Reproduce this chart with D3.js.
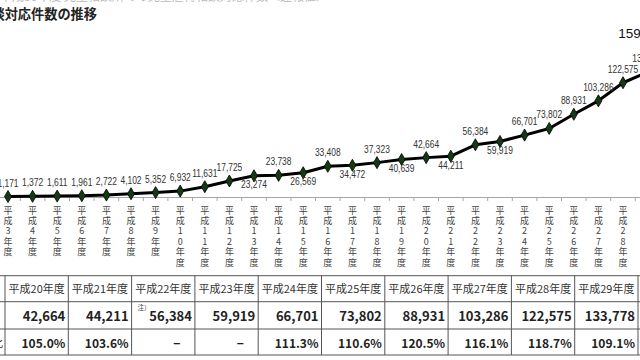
<!DOCTYPE html>
<html><head><meta charset="utf-8">
<script src="https://cdn.jsdelivr.net/npm/d3@7"></script>
<style>
html,body{margin:0;padding:0;background:#fff;overflow:hidden}
svg{display:block}
</style></head>
<body>
<svg id="c" width="640" height="360"></svg>
<script>
// ---- data ----
const eraNums = [3,4,5,6,7,8,9,10,11,12,13,14,15,16,17,18,19,20,21,22,23,24,25,26,27,28,29,30];
const counts = [1171,1372,1611,1961,2722,4102,5352,6932,11631,17725,23274,23738,26569,33408,34472,37323,40639,42664,44211,56384,59919,66701,73802,88931,103286,122575,133778,159850];
const labelSide = ["a","a","a","a","a","a","a","a","a","a","b","a","b","a","b","a","b","a","b","a","b","a","a","a","a","a","a","big"];
const tableYears = ["平成20年度","平成21年度","平成22年度","平成23年度","平成24年度","平成25年度","平成26年度","平成27年度","平成28年度","平成29年度"];
const tableCounts = [42664,44211,56384,59919,66701,73802,88931,103286,122575,133778];
const tableRatios = ["105.0%","103.6%","−","−","111.3%","110.6%","120.5%","116.1%","118.7%","109.1%"];
const rowLabels = ["","件数","対前年度比"];
const titleText = "児童相談所での児童虐待相談対応件数の推移";

const svg = d3.select("#c");
const cats = eraNums.map(n => "平成" + n + "年度");
const data = cats.map((c,i)=>({c, n: eraNums[i], v: counts[i], side: labelSide[i]}));

const x = d3.scalePoint().domain(cats).range([8, 8 + 24.6*(cats.length-1)]);
const y = d3.scaleLinear().domain([0, 160000]).range([197.6, 197.6 - 0.000937*160000]);

// faint cut text at top
svg.append("text").attr("x", 0).attr("y", 1)
  .attr("font-family","'Noto Sans CJK JP'").attr("font-size",12).attr("fill","#bbb")
  .text("平成30年度 児童相談所での児童虐待相談対応件数〈速報値〉");

// title
svg.append("text").attr("x", 97).attr("y", 18.5).attr("text-anchor","end")
  .attr("font-family","'Noto Sans CJK JP'").attr("font-size",13.2).attr("font-weight",700)
  .attr("fill","#222").text(titleText);

// axis line
const step = x.step();
const axisG = svg.append("g").attr("transform","translate(0,197)");
axisG.call(d3.axisBottom(d3.scaleLinear().domain([0,1]).range([-10, 700])).tickValues([]).tickSizeOuter(0));
axisG.select(".domain").attr("stroke","#a6a6a6");
axisG.selectAll(".bt").data(cats).enter().append("line").attr("class","bt")
  .attr("x1", d => x(d) + step/2).attr("x2", d => x(d) + step/2)
  .attr("y1", 0).attr("y2", 4).attr("stroke","#a6a6a6");

// vertical tick labels, one character per line
const tl = svg.append("g").attr("font-family","'Noto Sans CJK JP'").attr("font-size",9).attr("fill","#444").attr("text-anchor","middle");
data.forEach(d => {
  const chars = ["平","成"].concat(String(d.n).split("")).concat(["年","度"]);
  chars.forEach((ch,k) => {
    tl.append("text").attr("x", x(d.c)).attr("y", 213.5 + k*10.4).text(ch);
  });
});

// line
svg.append("path").datum(data)
  .attr("d", d3.line().x(d => x(d.c)).y(d => y(d.v)))
  .attr("fill","none").attr("stroke","#000").attr("stroke-width",3).attr("stroke-linejoin","round");

// markers
svg.selectAll(".mk").data(data).enter().append("path").attr("class","mk")
  .attr("transform", d => `translate(${x(d.c)},${y(d.v)})`)
  .attr("d", d3.symbol().type(d3.symbolDiamond).size(42))
  .attr("fill","#143a14").attr("stroke","#000").attr("stroke-width",0.8);

// value labels
const fmt = d3.format(",");
svg.selectAll(".vl").data(data).enter().append("text").attr("class","vl")
  .attr("transform", d => {
    const lx = d.side === "big" ? x(d.c) - 54 : x(d.c);
    const ly = d.side === "b" ? y(d.v) + 12.5 : d.side === "big" ? 38 : y(d.v) - 10;
    return `translate(${lx},${ly}) scale(${d.side === "big" ? 1 : 0.82},1)`;
  })
  .attr("text-anchor", d => d.side === "big" ? "start" : "middle")
  .attr("font-family", "'Liberation Sans', Arial, sans-serif")
  .attr("font-size", d => d.side === "big" ? 13.5 : 10.3)
  .attr("fill", d => d.side === "big" ? "#111" : "#333")
  .text(d => fmt(d.v));

// table
const cx = d3.scaleBand().domain(tableYears).range([5, 638]);
const rowY = [275.7, 301.7, 329, 355];
const tg = svg.append("g");
const bc = "#555";
rowY.forEach(yy => tg.append("line").attr("x1",-5).attr("x2",645).attr("y1",yy).attr("y2",yy).attr("stroke",bc).attr("stroke-width",1));
[5].concat(tableYears.map(t => cx(t) + cx.bandwidth())).forEach(xx =>
  tg.append("line").attr("x1",xx).attr("x2",xx).attr("y1",rowY[0]).attr("y2",rowY[3]).attr("stroke",bc).attr("stroke-width",1));

tg.selectAll(".th").data(tableYears).enter().append("text")
  .attr("x", d => cx(d) + cx.bandwidth()/2).attr("y", 292.5)
  .attr("text-anchor","middle").attr("font-family","'Noto Sans CJK JP'").attr("font-size",11).attr("fill","#333")
  .text(d => d);

tg.selectAll(".tc").data(tableCounts).enter().append("text")
  .attr("x", (d,i) => cx(tableYears[i]) + cx.bandwidth() - 3).attr("y", 321)
  .attr("text-anchor","end").attr("font-family","'Noto Sans CJK JP'").attr("font-size",13).attr("font-weight",600).attr("fill","#222")
  .text(d => fmt(d));

tg.selectAll(".tr").data(tableRatios).enter().append("text")
  .attr("x", (d,i) => d === "−" ? cx(tableYears[i]) + cx.bandwidth() - 18 : cx(tableYears[i]) + cx.bandwidth() - 3)
  .attr("y", 347.5)
  .attr("text-anchor", d => d === "−" ? "middle" : "end")
  .attr("font-family","'Noto Sans CJK JP'").attr("font-size",12).attr("font-weight",600).attr("fill","#222")
  .text(d => d);

// note mark
tg.append("text").attr("x", cx("平成22年度") + 6).attr("y", 310)
  .attr("font-family","'Noto Sans CJK JP'").attr("font-size",6.5).attr("fill","#444").text("注）");

// row labels (mostly cut off)
tg.append("text").attr("x", -30).attr("y", 321).attr("text-anchor","middle")
  .attr("font-family","'Noto Sans CJK JP'").attr("font-size",11).attr("fill","#333").text(rowLabels[1]);
tg.append("text").attr("x", 3).attr("y", 347).attr("text-anchor","end")
  .attr("font-family","'Noto Sans CJK JP'").attr("font-size",11).attr("fill","#333").text(rowLabels[2]);
</script>
</body></html>
